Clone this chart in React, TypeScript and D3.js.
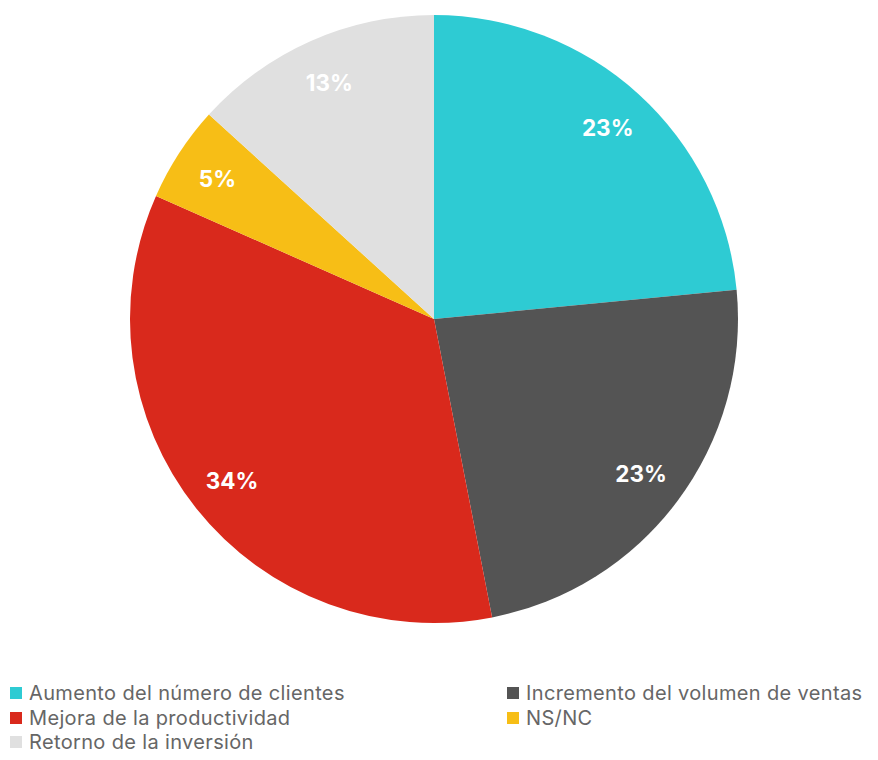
import React from "react";
import * as d3 from "d3";

const categories = [
  "Aumento del número de clientes",
  "Incremento del volumen de ventas",
  "Mejora de la productividad",
  "NS/NC",
  "Retorno de la inversión",
];
const values = [23, 23, 34, 5, 13];
const colors = ["#2ECBD3", "#545454", "#D9291C", "#F7BE16", "#E0E0E0"];
const legendOrder = [0, 1, 2, 3, 4];

export default function App() {
  const width = 878;
  const height = 760;
  const cx = 434;
  const cy = 319;
  const r = 304;

  const pie = d3.pie<number>().sort(null).value((d) => d)(values);
  const arc = d3.arc<d3.PieArcDatum<number>>().innerRadius(0).outerRadius(r);
  const labelArc = d3
    .arc<d3.PieArcDatum<number>>()
    .innerRadius(r * 0.85)
    .outerRadius(r * 0.85);

  const legendX = [10, 507];
  const legendY = [693, 718, 742];

  return (
    <svg
      width={width}
      height={height}
      style={{ position: "absolute", left: 0, top: 0, background: "#fff" }}
      fontFamily="Inter, 'Open Sans', sans-serif"
    >
      <g transform={`translate(${cx},${cy})`}>
        {pie.map((p, i) => (
          <path key={i} d={arc(p) || ""} fill={colors[i]} />
        ))}
        {pie.map((p, i) => {
          const [x, y] = labelArc.centroid(p);
          return (
            <text
              key={i}
              x={x}
              y={y}
              textAnchor="middle"
              dominantBaseline="central"
              fill="#fff"
              fontWeight={700}
              fontSize={22.5}
            >
              {values[i]}%
            </text>
          );
        })}
      </g>
      {legendOrder.map((idx, k) => {
        const col = k % 2;
        const row = Math.floor(k / 2);
        const x = legendX[col];
        const y = legendY[row];
        return (
          <g key={idx}>
            <rect x={x} y={y - 6} width={12} height={12} fill={colors[idx]} />
            <text
              x={x + 19}
              y={y}
              dominantBaseline="central"
              fontSize={20}
              letterSpacing={0.35}
              fill="#666"
            >
              {categories[idx]}
            </text>
          </g>
        );
      })}
    </svg>
  );
}
